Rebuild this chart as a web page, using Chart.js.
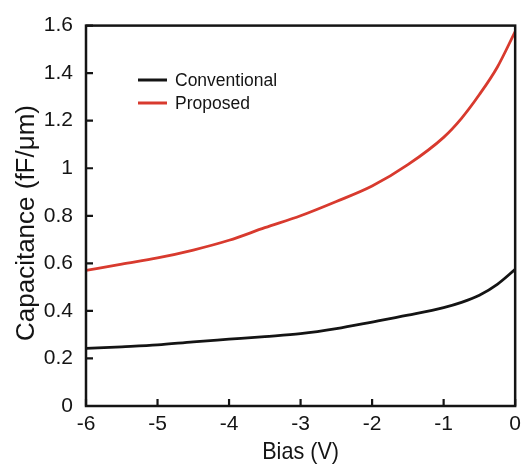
<!DOCTYPE html>
<html>
<head>
<meta charset="utf-8">
<script src="https://cdn.jsdelivr.net/npm/chart.js@4.4.1/dist/chart.umd.min.js"></script>
<style>
  html, body { margin: 0; padding: 0; background: #fff; }
  #wrap { width: 527px; height: 468px; }
</style>
</head>
<body>
<div id="wrap"><canvas id="cv-chart" width="527" height="468"></canvas></div>
<script>
// bias sweep (V)
var biasV = [-6, -5.5, -5, -4.5, -4, -3.5, -3, -2.5, -2, -1.5, -1, -0.75, -0.5, -0.25, 0];
// capacitance (fF/um)
var conventional = [0.242, 0.249, 0.257, 0.27, 0.281, 0.292, 0.304, 0.325, 0.353, 0.382, 0.414, 0.436, 0.466, 0.512, 0.575];
var proposed = [0.57, 0.597, 0.623, 0.656, 0.697, 0.75, 0.8, 0.86, 0.925, 1.015, 1.13, 1.21, 1.31, 1.425, 1.575];

var xTickLabels = ["-6", "-5", "-4", "-3", "-2", "-1", "0"];
var yTickLabels = ["0", "0.2", "0.4", "0.6", "0.8", "1", "1.2", "1.4", "1.6"];

var seriesNames = ["Conventional", "Proposed"];
var seriesColors = ["#141414", "#d83a2e"];
var xTitle = "Bias (V)";
var yTitle = "Capacitance (fF/\u03bcm)";

var FONT = "'Liberation Sans', Arial, sans-serif";

function toPoints(ys) {
  return biasV.map(function (x, i) { return { x: x, y: ys[i] }; });
}

// frame around the plot, inward tick marks, axis titles and legend
var framePlugin = {
  id: "frame",
  afterDraw: function (chart) {
    var ctx = chart.ctx, a = chart.chartArea;
    var xs = chart.scales.x, ys = chart.scales.y;
    ctx.save();
    ctx.strokeStyle = "#141414";
    ctx.lineWidth = 2.5;
    ctx.strokeRect(a.left, a.top, a.right - a.left, a.bottom - a.top);
    ctx.lineWidth = 2.2;
    ctx.beginPath();
    xs.ticks.forEach(function (t) {
      var px = xs.getPixelForValue(t.value);
      ctx.moveTo(px, a.bottom);
      ctx.lineTo(px, a.bottom - 7);
    });
    ys.ticks.forEach(function (t) {
      var py = ys.getPixelForValue(t.value);
      ctx.moveTo(a.left, py);
      ctx.lineTo(a.left + 7, py);
    });
    ctx.stroke();

    ctx.fillStyle = "#141414";
    ctx.textAlign = "center";
    ctx.textBaseline = "middle";
    ctx.save();
    ctx.translate((a.left + a.right) / 2, 452);
    ctx.scale(0.9, 1);
    ctx.font = "24px " + FONT;
    ctx.fillText(xTitle, 0, 0);
    ctx.restore();
    ctx.save();
    ctx.translate(27, 223);
    ctx.rotate(-Math.PI / 2);
    ctx.font = "26px " + FONT;
    ctx.fillText(yTitle, 0, 0);
    ctx.restore();

    // legend inside the plot
    ctx.font = "17.5px " + FONT;
    ctx.textAlign = "left";
    var lx = 138, ly = 80;
    seriesNames.forEach(function (name, i) {
      ctx.strokeStyle = seriesColors[i];
      ctx.lineWidth = 3;
      ctx.beginPath();
      ctx.moveTo(lx, ly + i * 23);
      ctx.lineTo(lx + 29, ly + i * 23);
      ctx.stroke();
      ctx.fillText(name, lx + 37, ly + i * 23 + 1);
    });
    ctx.restore();
  }
};

var config = {
  type: "line",
  data: {
    datasets: [
      {
        label: seriesNames[0],
        data: toPoints(conventional),
        borderColor: seriesColors[0],
        borderWidth: 2.8,
        pointRadius: 0,
        cubicInterpolationMode: "monotone"
      },
      {
        label: seriesNames[1],
        data: toPoints(proposed),
        borderColor: seriesColors[1],
        borderWidth: 2.8,
        pointRadius: 0,
        cubicInterpolationMode: "monotone"
      }
    ]
  },
  options: {
    responsive: false,
    animation: false,
    layout: { padding: { top: 18, right: 7, left: 0, bottom: 0 } },
    plugins: {
      legend: { display: false },
      tooltip: { enabled: false }
    },
    scales: {
      x: {
        type: "linear",
        min: -6,
        max: 0,
        border: { display: false },
        grid: { display: false, drawTicks: false },
        afterBuildTicks: function (s) {
          s.ticks = xTickLabels.map(function (l) { return { value: Number(l) }; });
        },
        ticks: {
          padding: 6,
          color: "#141414",
          font: { family: FONT, size: 21 },
          callback: function (v, i) { return xTickLabels[i]; }
        },
        afterFit: function (s) { s.height = 62; }
      },
      y: {
        min: 0,
        max: 1.6,
        border: { display: false },
        grid: { display: false, drawTicks: false },
        afterBuildTicks: function (s) {
          s.ticks = yTickLabels.map(function (l) { return { value: Number(l) }; });
        },
        ticks: {
          padding: 13,
          color: "#141414",
          font: { family: FONT, size: 21 },
          callback: function (v, i) { return yTickLabels[i]; }
        },
        afterFit: function (s) { s.width = 86; }
      }
    }
  },
  plugins: [framePlugin]
};

window.onload = function () {
  var ctx = document.getElementById("cv-chart").getContext("2d");
  window.cvChart = new Chart(ctx, config);
};
</script>
</body>
</html>
